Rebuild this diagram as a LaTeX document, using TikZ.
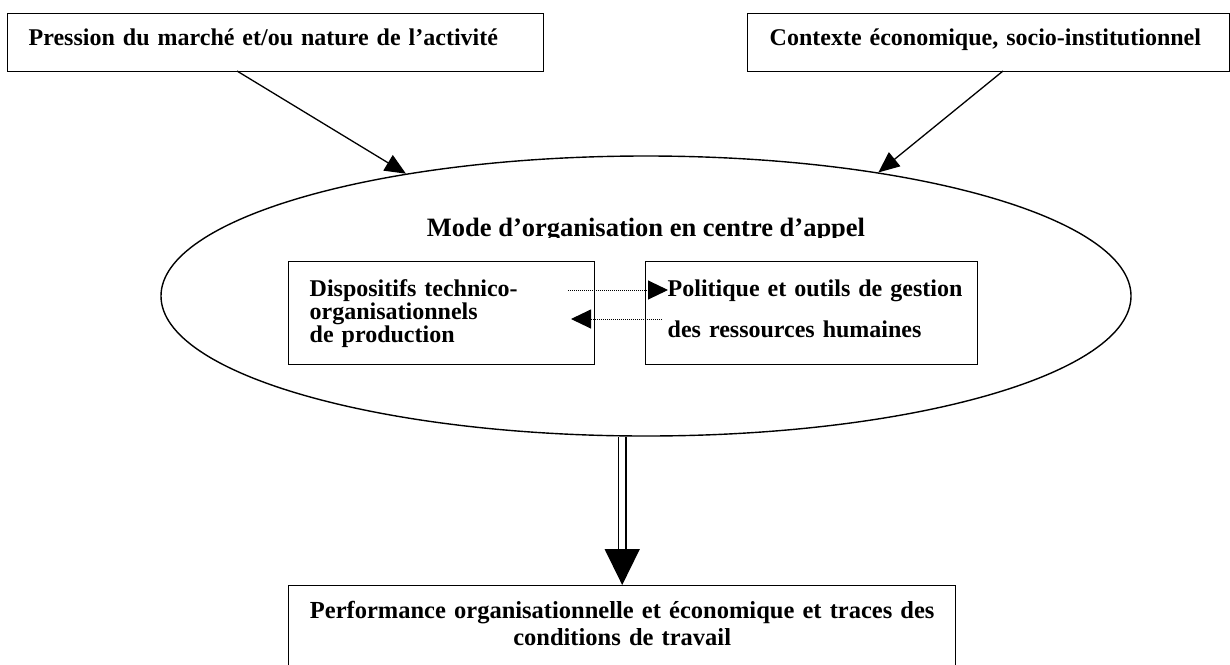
\documentclass[tikz,border=0pt]{standalone}
\usepackage{fontspec}
\setmainfont{Liberation Serif}
\usetikzlibrary{arrows.meta,shapes.geometric}
\begin{document}
\begin{tikzpicture}[x=1pt,y=-1pt,
  box/.style={draw, line width=1.4pt, inner ysep=0pt, align=left,
    font=\bfseries\fontsize{24}{21.5}\selectfont},
  arr/.style={line width=1.3pt, -{Triangle[length=21pt,width=18pt]}},
  dotarr/.style={line width=1pt, dash pattern=on 1pt off 1pt, -{Triangle[length=20pt,width=19pt]}},
  dbl/.style={double, double distance=6pt, line width=1.5pt, -{Triangle[length=36pt,width=35pt]}}
]
\useasboundingbox (0,0) rectangle (1230,664);
\clip (0,0) rectangle (1230,664);

% top boxes
\node[box, anchor=north west, inner xsep=21pt, text width=494pt, text height=32pt, text depth=26pt]
  (pa) at (7,13) {\mbox{Pression du marché et/ou nature de l’activité}};
\node[box, anchor=north west, inner xsep=22pt, text width=438pt, text height=32pt, text depth=26pt]
  (pb) at (747,13) {\mbox{Contexte économique, socio-institutionnel}};

% ellipse
\node[draw, ellipse, line width=1.4pt, minimum width=970pt, minimum height=280pt, inner sep=0pt]
  (ell) at (646,296) {};
\begin{scope}
  \clip (0,0) rectangle (1230,237.5);
  \node[anchor=base, inner sep=0pt, font=\bfseries\fontsize{26.5}{30}\selectfont]
    (title) at (646,236) {Mode d’organisation en centre d’appel};
\end{scope}

% inner boxes
\node[box, anchor=north west, inner xsep=21pt, text width=264pt, text height=35pt, text depth=68pt]
  (lbox) at (288,261) {\mbox{Dispositifs technico-}\\\mbox{organisationnels}\\\mbox{de production}};
\node[box, anchor=north west, inner xsep=22pt, text width=288pt, text height=35pt, text depth=68pt]
  (rbox) at (645,261) {\mbox{Politique et outils de gestion}\\[17.5pt]\mbox{des ressources humaines}};

% bottom box
\node[box, anchor=north west, align=center, inner xsep=20pt, text width=627pt, text height=33pt, text depth=62pt,
  font=\bfseries\fontsize{24.5}{27}\selectfont]
  (perf) at (288,585) {Performance organisationnelle et économique et traces des\\conditions de travail};

% connectors
\coordinate (a1) at (237,71);
\coordinate (b1) at (1003,71);
\draw[arr] (a1) -- (ell.153);
\draw[arr] (b1) -- (ell.28);

\coordinate (u1) at (568,290);
\coordinate (u2) at (668,290);
\coordinate (v1) at (662,319);
\coordinate (v2) at (571,319);
\draw[dotarr] (u1) -- (u2);
\draw[dotarr] (v1) -- (v2);

\draw[dbl] (perf.north |- ell.south) -- (perf.north);
\end{tikzpicture}
\end{document}
